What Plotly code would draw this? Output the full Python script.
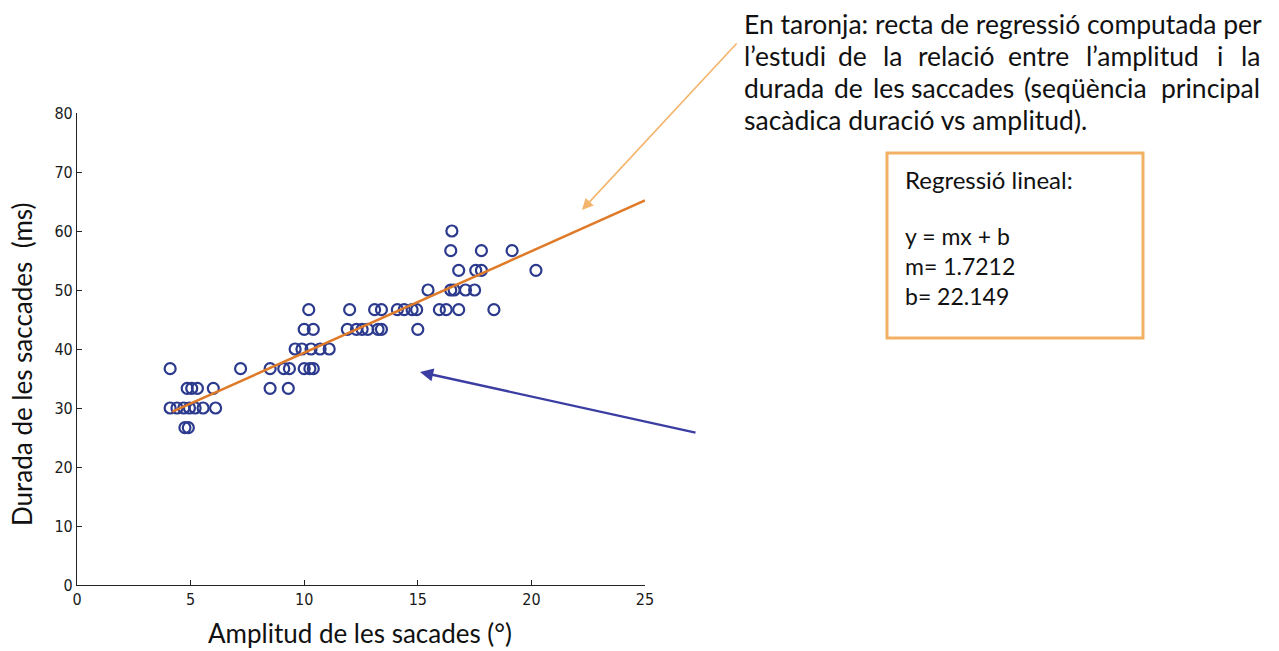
import plotly.graph_objects as go

# Saccade amplitude (deg) and duration (ms)
amplitude = [
    4.75, 4.9,
    4.1, 4.4, 4.7, 4.95, 5.2, 5.55, 6.1,
    4.85, 5.05, 5.3, 6.0, 8.5, 9.3,
    4.1, 7.2, 8.5, 9.1, 9.35, 10.0, 10.25, 10.4,
    9.6, 9.9, 10.3, 10.7, 11.1,
    10.0, 10.4, 11.9, 12.3, 12.55, 12.8, 13.25, 13.4, 15.0,
    10.2, 12.0, 13.1, 13.4, 14.1, 14.4, 14.75, 14.95, 15.95, 16.25, 16.8, 18.35,
    15.45, 16.45, 16.6, 17.1, 17.5,
    16.8, 17.55, 17.8, 20.2,
    16.45, 17.8, 19.15,
    16.5,
]
duration = (
    [26.67] * 2 + [30.0] * 7 + [33.33] * 6 + [36.67] * 8 + [40.0] * 5
    + [43.33] * 9 + [46.67] * 12 + [50.0] * 5 + [53.33] * 4 + [56.67] * 3 + [60.0] * 1
)

# Linear fit y = m*x + b
m = 1.7212
b = 22.149
fit_x = [4.2, 25.0]
fit_y = [m * v + b for v in fit_x]

x_ticks = [0, 5, 10, 15, 20, 25]
y_ticks = [0, 10, 20, 30, 40, 50, 60, 70, 80]

W, H = 1279, 651
L, R, T, B = 77, 634, 113, 66
PW, PH = W - L - R, H - T - B


def px(x):
    return (x - L) / PW


def py(y):
    return (H - B - y) / PH


TEXT_FONT = "Lato, Open Sans, sans-serif"
TICK_FONT = "Liberation Sans Narrow, DejaVu Sans Condensed, Liberation Sans, sans-serif"
ORANGE = "#DF7A28"
BLUE = "#2C3A8E"

fig = go.Figure()
fig.add_trace(go.Scatter(
    x=amplitude, y=duration, mode="markers",
    marker=dict(symbol="circle-open", size=11, color=BLUE, line=dict(width=2.2, color=BLUE)),
    showlegend=False, cliponaxis=False,
))
fig.add_trace(go.Scatter(
    x=fit_x, y=fit_y, mode="lines",
    line=dict(color=ORANGE, width=2.5),
    showlegend=False,
))

axis_common = dict(
    showgrid=False, zeroline=False, showline=True, linecolor="#222", linewidth=1.2,
    ticks="inside", ticklen=5, tickcolor="#222", tickwidth=1,
    tickfont=dict(family=TICK_FONT, size=16, color="#1a1a1a"),
)
fig.update_xaxes(range=[0, 25], tickvals=x_ticks, **axis_common)
fig.update_yaxes(range=[0, 80], tickvals=y_ticks, **axis_common)

ann = []


def text(x, y, s, size, anchor="left", angle=0, color="#111", yanchor="middle"):
    ann.append(dict(
        x=px(x), y=py(y), xref="paper", yref="paper", text=s, showarrow=False,
        xanchor=anchor, yanchor=yanchor, textangle=angle, align="left",
        font=dict(family=TEXT_FONT, size=size, color=color),
    ))


# axis titles
text(360, 633, "Amplitud de les sacades (°)", 26, anchor="center")
text(22, 365, "Durada de les saccades\u00a0\u00a0(ms)", 26, anchor="center", angle=-90)

# explanatory paragraph (justified lines laid out word by word)
TS = 26.5
text(742, 24, "En taronja: recta de regressió computada per", TS)
line2 = [("l’estudi", 742, "left"), ("de", 852, "center"), ("la", 892, "center"),
         ("relació", 956, "center"), ("entre", 1038, "center"), ("l’amplitud", 1142, "center"),
         ("i", 1220, "center"), ("la", 1262, "right")]
for w, x, a in line2:
    text(x, 56, w, TS, anchor=a)
line3 = [("durada", 742, "left"), ("de", 848, "center"), ("les", 889, "center"),
         ("saccades", 962, "center"), ("(seqüència", 1085, "center"), ("principal", 1262, "right")]
for w, x, a in line3:
    text(x, 88, w, TS, anchor=a)
text(742, 120, "sacàdica duració vs amplitud).", TS)

# regression box text
text(903, 179, "Regressió lineal:", 24)
text(903, 266, f"y = mx + b<br>m= {m}<br>b= {b}", 23)

# arrows
ann.append(dict(
    x=px(582), y=py(210), xref="paper", yref="paper", text="", showarrow=True,
    ax=738 - 582, ay=42 - 210, arrowcolor="#F4B46C", arrowwidth=1.6,
    arrowhead=2, arrowsize=1.4,
))
ann.append(dict(
    x=px(420), y=py(372), xref="paper", yref="paper", text="", showarrow=True,
    ax=697 - 420, ay=433 - 372, arrowcolor="#3B3DA3", arrowwidth=2.4,
    arrowhead=2, arrowsize=1.1,
))

fig.update_layout(
    width=W, height=H, autosize=False,
    margin=dict(l=L, r=R, t=T, b=B),
    plot_bgcolor="white", paper_bgcolor="white",
    annotations=ann,
    shapes=[dict(
        type="rect", xref="paper", yref="paper",
        x0=px(887), x1=px(1143), y0=py(338), y1=py(153),
        line=dict(color="#F3B062", width=3), fillcolor="rgba(0,0,0,0)",
    )],
)

fig.write_html("out.html")
